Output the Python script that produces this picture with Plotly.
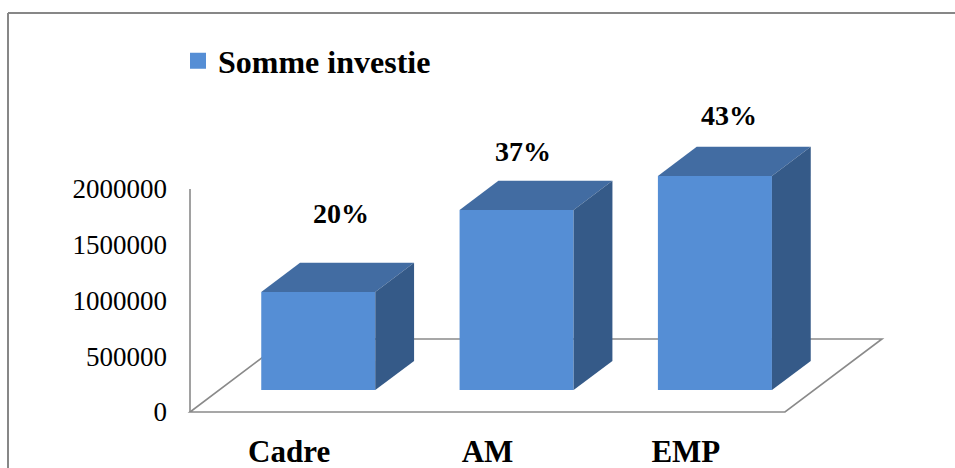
import plotly.graph_objects as go

# ---- data ----
categories = ["Cadre", "AM", "EMP"]
values = [880000, 1615000, 1920000]
pct_labels = ["20%", "37%", "43%"]
y_ticks = [0, 500000, 1000000, 1500000, 2000000]
series_name = "Somme investie"

# ---- style / geometry ----
W, H = 955, 468
ML, MR, MT, MB = 180, 45, 100, 48
PX_PER_CAT = 198.33          # pixels per category along x
PX_PER_UNIT = 111.5e-6       # pixels per value unit along y
X0_PX, Y0_PX = 190, 412      # pixel position of (x=0, y=0)
DEPTH_DX_PX, DEPTH_DY_PX = 97, 73
BAR_FRONT, BAR_DEPTH = 0.30, 0.40   # bar position inside floor depth
BAR_WIDTH = 0.575
LABEL_DY = [64, 44, 46]      # pixel shift of the data labels above bar tops
LABEL_DX = [3, -13, -5]      # pixel shift of the data labels sideways

FRONT = "#558ED5"
TOP = "#426CA2"
SIDE = "#355A88"
GRAY = "#8A8A8A"
FONT = "Liberation Serif, Times New Roman, DejaVu Serif, serif"

plot_w = W - ML - MR
plot_h = H - MT - MB
x_range = [(ML - X0_PX) / PX_PER_CAT, (ML + plot_w - X0_PX) / PX_PER_CAT]
y_range = [(Y0_PX - (MT + plot_h)) / PX_PER_UNIT, (Y0_PX - MT) / PX_PER_UNIT]
dxf = DEPTH_DX_PX / PX_PER_CAT
dyf = DEPTH_DY_PX / PX_PER_UNIT
n = len(categories)


def paper_x(px):
    return (px - ML) / plot_w


def paper_y(py):
    return (MT + plot_h - py) / plot_h


fig = go.Figure()

# front faces as real bars
fx_off = BAR_FRONT * dxf
fy_off = BAR_FRONT * dyf
fig.add_trace(go.Bar(
    x=[i + 0.5 + fx_off for i in range(n)],
    y=values,
    base=[fy_off] * n,
    width=BAR_WIDTH,
    marker=dict(color=FRONT, line=dict(width=0)),
    showlegend=False,
    hoverinfo="skip",
))

# top and side faces
bdx = BAR_DEPTH * dxf
bdy = BAR_DEPTH * dyf
for i, v in enumerate(values):
    xl = i + 0.5 + fx_off - BAR_WIDTH / 2
    xr = i + 0.5 + fx_off + BAR_WIDTH / 2
    yb = fy_off
    yt = fy_off + v
    fig.add_trace(go.Scatter(
        x=[xl, xr, xr + bdx, xl + bdx, xl],
        y=[yt, yt, yt + bdy, yt + bdy, yt],
        fill="toself", fillcolor=TOP, mode="lines",
        line=dict(width=0, color=TOP), showlegend=False, hoverinfo="skip"))
    fig.add_trace(go.Scatter(
        x=[xr, xr + bdx, xr + bdx, xr, xr],
        y=[yb, yb + bdy, yt + bdy, yt, yb],
        fill="toself", fillcolor=SIDE, mode="lines",
        line=dict(width=0, color=SIDE), showlegend=False, hoverinfo="skip"))

# legend entry
fig.add_trace(go.Scatter(
    x=[None], y=[None], mode="markers", name=series_name,
    marker=dict(symbol="square", size=16, color=FRONT),
    showlegend=True))

# data labels
for i, (v, lab) in enumerate(zip(values, pct_labels)):
    fig.add_annotation(
        x=i + 0.5 + 0.5 * dxf, y=0.5 * dyf + v, text=lab,
        showarrow=False, xshift=LABEL_DX[i], yshift=LABEL_DY[i],
        yanchor="middle",
        font=dict(family=FONT, size=28, color="black", weight="bold"))

shapes = []
# floor
shapes.append(dict(
    type="path", xref="x", yref="y", layer="below",
    path=f"M 0,0 L {n},0 L {n + dxf},{dyf} L {dxf},{dyf} Z",
    line=dict(color=GRAY, width=1.6), fillcolor="rgba(0,0,0,0)"))
# value axis line
shapes.append(dict(
    type="line", xref="x", yref="y", layer="below",
    x0=0, x1=0, y0=0, y1=y_ticks[-1],
    line=dict(color=GRAY, width=1.6)))
# chart border (top and left)
shapes.append(dict(
    type="line", xref="paper", yref="paper",
    x0=paper_x(8), x1=paper_x(956), y0=paper_y(13), y1=paper_y(13),
    line=dict(color="#878787", width=2)))
shapes.append(dict(
    type="line", xref="paper", yref="paper",
    x0=paper_x(8), x1=paper_x(8), y0=paper_y(13), y1=paper_y(470),
    line=dict(color="#878787", width=2)))

fig.update_layout(
    width=W, height=H, autosize=False,
    margin=dict(l=ML, r=MR, t=MT, b=MB, autoexpand=False),
    paper_bgcolor="white", plot_bgcolor="white",
    shapes=shapes,
    showlegend=True,
    legend=dict(
        x=paper_x(178), y=paper_y(61), xanchor="left", yanchor="middle",
        font=dict(family=FONT, size=32, color="black", weight="bold"),
        bgcolor="rgba(0,0,0,0)", borderwidth=0),
    xaxis=dict(
        range=x_range, showgrid=False, zeroline=False, showline=False,
        automargin=False,
        tickvals=[i + 0.5 for i in range(n)], ticktext=categories,
        ticks="", ticklabelstandoff=10,
        tickfont=dict(family=FONT, size=31, color="black", weight="bold")),
    yaxis=dict(
        range=y_range, showgrid=False, zeroline=False, showline=False,
        automargin=False,
        tickvals=y_ticks, tickformat="d", ticks="", ticklabelstandoff=12,
        tickfont=dict(family=FONT, size=27, color="black")),
)

fig.write_html("out.html")
